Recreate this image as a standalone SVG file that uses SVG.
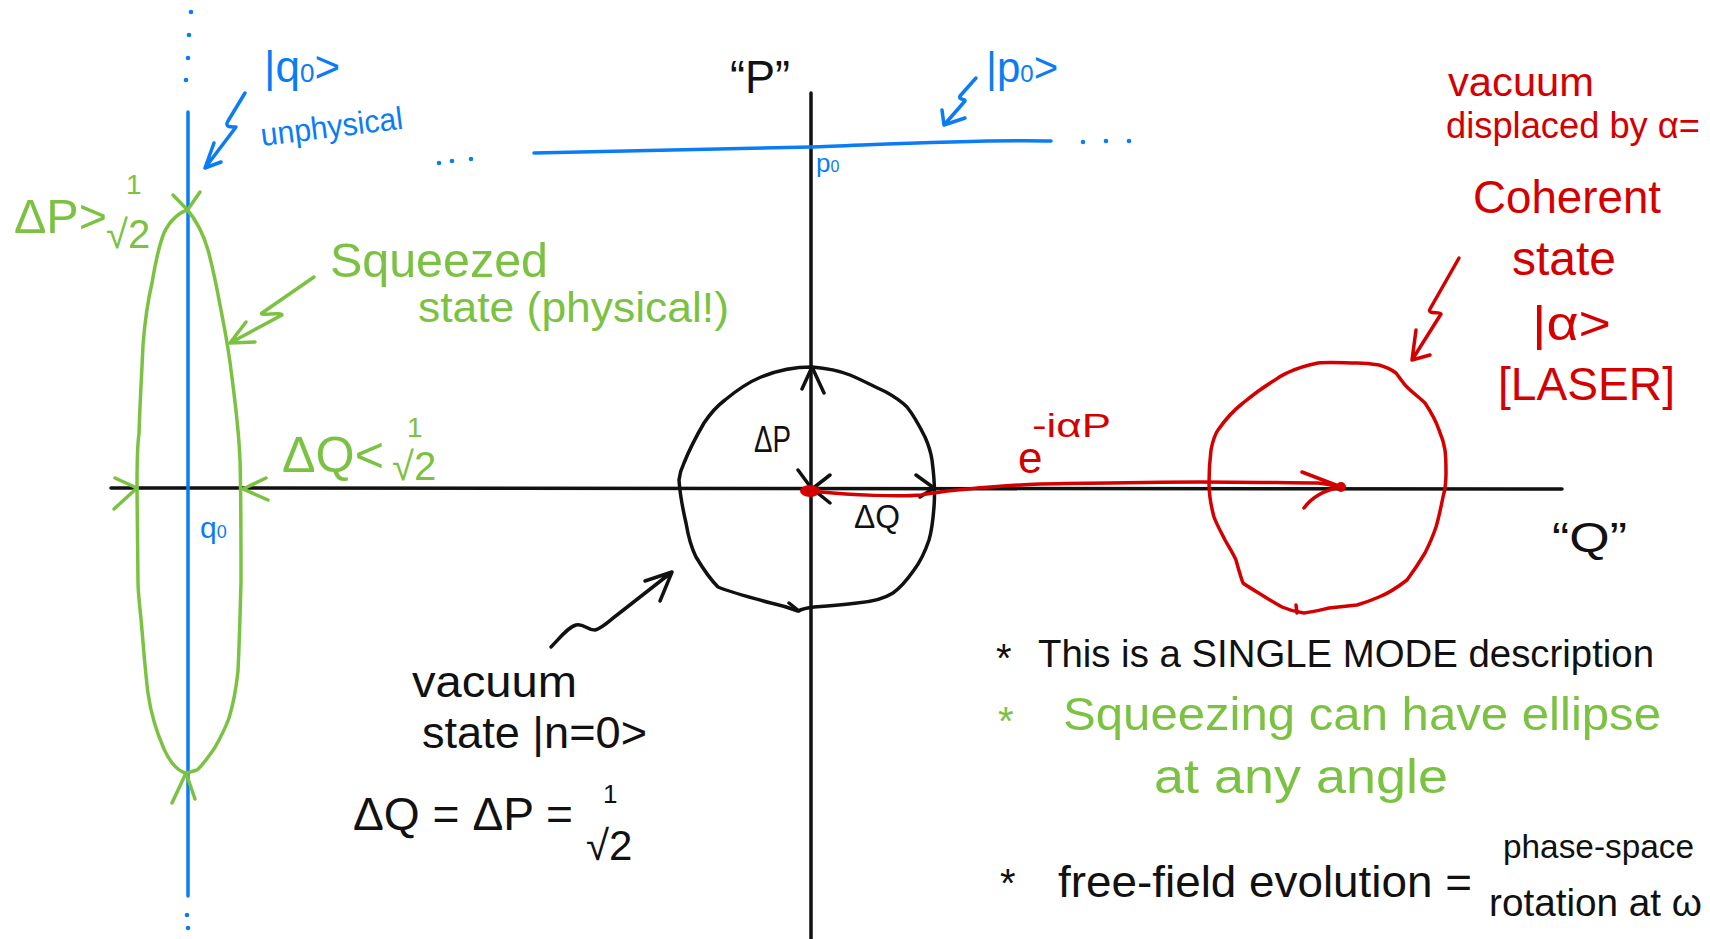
<svg xmlns="http://www.w3.org/2000/svg" width="1710" height="939" viewBox="0 0 1710 939">
<style>
text{font-family:"Liberation Sans",Arial,sans-serif}
.k{fill:#111}.b{fill:#0a7cf5}.g{fill:#7cc242}.r{fill:#d40000}
.sk{fill:none;stroke:#111;stroke-width:3.5;stroke-linecap:round;stroke-linejoin:round}
.sb{fill:none;stroke:#0a7cf5;stroke-width:3.5;stroke-linecap:round;stroke-linejoin:round}
.sg{fill:none;stroke:#7cc242;stroke-width:3.5;stroke-linecap:round;stroke-linejoin:round}
.sr{fill:none;stroke:#d40000;stroke-width:3.5;stroke-linecap:round;stroke-linejoin:round}
</style>
<rect width="1710" height="939" fill="#fff"/>

<g id="axes">
<path class="sk" d="M111,488 L1562,489" stroke-width="4"/>
<path class="sk" d="M811,93 L811,939" stroke-width="4"/>
<text class="k" x="730" y="93" font-size="46" textLength="60" lengthAdjust="spacingAndGlyphs">“P”</text>
<text class="k" x="1552" y="552" font-size="42" textLength="75" lengthAdjust="spacingAndGlyphs">“Q”</text>
</g>

<g id="q0-eigenstate">
<path class="sb" d="M188,112 L188,896" stroke-width="4"/>
<g fill="#0a7cf5"><circle cx="191" cy="12" r="2.3"/><circle cx="189" cy="35" r="2.3"/><circle cx="188" cy="58" r="2.3"/><circle cx="186" cy="80" r="2.3"/><circle cx="187" cy="915" r="2.3"/><circle cx="188" cy="928" r="2.3"/></g>
<text class="b" x="264" y="82" font-size="44">|q<tspan font-size="26">0</tspan>&gt;</text>
<text class="b" x="262" y="146" font-size="32" textLength="143" lengthAdjust="spacingAndGlyphs" transform="rotate(-7 262 146)">unphysical</text>
<text class="b" x="200" y="538" font-size="30">q<tspan font-size="18">0</tspan></text>
<path class="sb" d="M245,93 L228,121 C224,128 232,127 236,127 L205,168 M214,143 L205,168 L221,162"/>
</g>

<g id="p0-eigenstate">
<path class="sb" d="M534,153 C650,151 750,149 811,147 S980,139 1051,141" stroke-width="4"/>
<g fill="#0a7cf5"><circle cx="439" cy="163" r="2.3"/><circle cx="452" cy="161" r="2.3"/><circle cx="471" cy="159" r="2.3"/><circle cx="1083" cy="142" r="2.3"/><circle cx="1106" cy="141" r="2.3"/><circle cx="1129" cy="141" r="2.3"/></g>
<text class="b" x="986" y="82" font-size="42">|p<tspan font-size="24">0</tspan>&gt;</text>
<text class="b" x="816" y="172" font-size="26">p<tspan font-size="16">0</tspan></text>
<path class="sb" d="M976,78 L960,96 C958,100 966,99 965,101 L944,125 M942,110 L944,125 L965,118"/>
</g>

<g id="squeezed-state">
<path class="sg" d="M187.5,210 C196,220 203,233 208,250 C212,265 216,283 220,305 C224,325 228,345 231,370 C235,400 239,434 240,460 C241,489 241,540 241,582 C240,620 239,650 238,671 C236,690 233,705 229,718 C224,732 218,742 214,749 C208,757 203,765 197,770 L187,773 C178,772 170,762 164,749 C157,733 151,715 148,693 C145,670 143,640 141,619 C139,600 138,590 138,582 L137,489 C137,460 138,440 139,434 C140,400 142,370 143,345 C145,320 148,300 152,283 C155,265 158,248 164,233 C170,220 180,212 187.5,210 Z"/>
<path class="sg" d="M173,195 L187.5,210 L200,192 M172,803 L186,773 L195,799 M115,478 L137,488 L114,509 M266,478 L243,489 L268,500"/>
<path class="sg" d="M314,277 L262,313 C258,316 282,312 282,315 L230,343 M246,322 L230,343 L255,342"/>
<text class="g" x="14" y="233" font-size="48" textLength="93" lengthAdjust="spacingAndGlyphs">ΔP&gt;</text>
<text class="g" x="126" y="194" font-size="28">1</text>
<text class="g" x="106" y="248" font-size="40">√2</text>
<text class="g" x="330" y="277" font-size="48" textLength="218" lengthAdjust="spacingAndGlyphs">Squeezed</text>
<text class="g" x="418" y="322" font-size="42" textLength="311" lengthAdjust="spacingAndGlyphs">state (physical!)</text>
<text class="g" x="282" y="472" font-size="50" textLength="102" lengthAdjust="spacingAndGlyphs">ΔQ&lt;</text>
<text class="g" x="407" y="437" font-size="28">1</text>
<text class="g" x="392" y="480" font-size="40">√2</text>
</g>

<g id="vacuum-state">
<path class="sk" d="M812,367 C825,368 840,371 850,375 C862,380 875,387 886,392 C895,397 901,401 907,407 C915,417 920,427 925,437 C929,446 931,453 932,460 C934,475 935,495 934,507 C933,520 932,530 929,540 C925,552 920,562 914,570 C907,580 900,588 893,593 C882,600 870,602 857,603 C842,605 828,606 814,607 C806,608 800,610 798,611 C790,608 780,605 771,603 C752,598 733,593 718,587 C708,577 702,567 696,557 C690,545 688,535 686,523 C683,510 680,495 679,480 C680,472 682,467 684,463 C690,448 697,435 704,423 C710,414 717,406 725,400 C737,390 749,382 761,377 C778,370 795,367 812,367 Z"/>
<path class="sk" d="M802,389 L812,367 L824,393 M798,470 L812,489 L830,475 M814,490 L830,503 M916,475 L934,488 L920,497 M789,603 L799,611"/>
<path class="sk" d="M551,647 C560,638 568,627 576,625 C584,623 586,630 595,630 C603,628 610,620 617,615 L672,572 M645,581 L672,572 L660,601"/>
<text class="k" x="754" y="452" font-size="36" textLength="37" lengthAdjust="spacingAndGlyphs">ΔP</text>
<text class="k" x="854" y="528" font-size="34" textLength="46" lengthAdjust="spacingAndGlyphs">ΔQ</text>
<text class="k" x="412" y="697" font-size="44" textLength="165" lengthAdjust="spacingAndGlyphs">vacuum</text>
<text class="k" x="422" y="748" font-size="44" textLength="225" lengthAdjust="spacingAndGlyphs">state |n=0&gt;</text>
<text class="k" x="353" y="830" font-size="47" textLength="220" lengthAdjust="spacingAndGlyphs">ΔQ = ΔP =</text>
<text class="k" x="603" y="803" font-size="26">1</text>
<text class="k" x="586" y="860" font-size="42">√2</text>
</g>

<g id="coherent-state">
<path class="sr" d="M1209,483 C1209,470 1210,458 1211,450 C1213,440 1215,434 1218,430 C1225,420 1234,410 1243,403 C1255,393 1265,386 1275,380 C1280,376 1285,374 1289,372 C1298,368 1308,365 1318,363 C1330,362 1345,363 1357,363 C1366,363 1373,364 1379,365 C1386,367 1392,370 1396,373 C1400,378 1403,383 1407,387 C1413,393 1420,398 1425,403 C1431,412 1436,421 1439,430 C1442,437 1444,444 1445,450 C1446,458 1446,466 1446,473 C1446,482 1445,490 1443,497 C1441,507 1439,517 1436,527 C1433,536 1429,545 1425,553 C1419,563 1413,572 1407,580 C1398,587 1389,593 1379,597 C1372,600 1364,603 1357,605 C1348,606 1338,607 1329,608 C1320,610 1312,612 1304,613 C1296,612 1289,610 1282,607 C1273,602 1265,597 1257,592 C1252,589 1247,586 1243,583 C1240,575 1238,567 1236,560 C1233,553 1229,547 1225,540 C1221,532 1217,525 1214,517 C1211,506 1209,495 1209,483 Z"/>
<path class="sr" d="M1296,605 L1297,613"/>
<path class="sr" d="M821,492 C850,495 900,497 921,495 C935,493 945,491 957,490 C990,487 1010,485 1040,484 C1100,483 1150,482 1200,482 C1250,482 1290,483 1318,483 C1326,484 1332,485 1338,487"/>
<path class="sr" d="M1302,472 L1341,487 C1325,490 1312,497 1304,508"/>
<circle cx="1341" cy="487" r="5" fill="#d40000"/>
<ellipse cx="810" cy="491" rx="10" ry="6" fill="#d40000"/>
<path class="sr" d="M1459,258 L1430,309 C1427,315 1440,311 1441,314 L1412,360 M1416,330 L1412,360 L1430,355"/>
<text class="r" x="1018" y="473" font-size="44">e</text>
<text class="r" x="1032" y="437" font-size="34" textLength="79" lengthAdjust="spacingAndGlyphs">-iαP</text>
<text class="r" x="1448" y="96" font-size="40" textLength="146" lengthAdjust="spacingAndGlyphs">vacuum</text>
<text class="r" x="1446" y="138" font-size="36" textLength="254" lengthAdjust="spacingAndGlyphs">displaced by α=</text>
<text class="r" x="1473" y="213" font-size="46" textLength="188" lengthAdjust="spacingAndGlyphs">Coherent</text>
<text class="r" x="1512" y="275" font-size="48" textLength="104" lengthAdjust="spacingAndGlyphs">state</text>
<text class="r" x="1532" y="340" font-size="48" textLength="79" lengthAdjust="spacingAndGlyphs">|α&gt;</text>
<text class="r" x="1498" y="400" font-size="46" textLength="177" lengthAdjust="spacingAndGlyphs">[LASER]</text>
</g>

<g id="notes">
<text class="k" x="996" y="672" font-size="40">*</text>
<text class="k" x="1038" y="667" font-size="38" textLength="616" lengthAdjust="spacingAndGlyphs">This is a SINGLE MODE description</text>
<text class="g" x="998" y="735" font-size="40">*</text>
<text class="g" x="1063" y="730" font-size="47" textLength="598" lengthAdjust="spacingAndGlyphs">Squeezing  can  have ellipse</text>
<text class="g" x="1154" y="793" font-size="49" textLength="294" lengthAdjust="spacingAndGlyphs">at  any  angle</text>
<text class="k" x="1000" y="897" font-size="40">*</text>
<text class="k" x="1058" y="897" font-size="45" textLength="414" lengthAdjust="spacingAndGlyphs">free-field evolution =</text>
<text class="k" x="1503" y="858" font-size="33" textLength="191" lengthAdjust="spacingAndGlyphs">phase-space</text>
<text class="k" x="1489" y="916" font-size="38" textLength="213" lengthAdjust="spacingAndGlyphs">rotation at ω</text>
</g>
</svg>
